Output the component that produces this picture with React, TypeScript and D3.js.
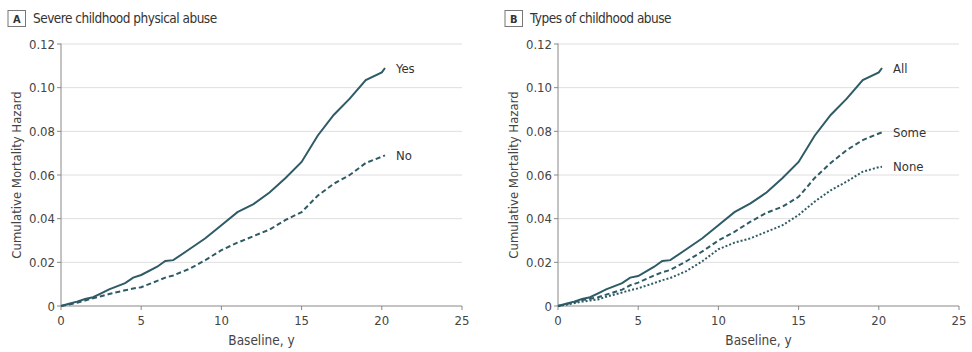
import * as d3 from "d3";

// time since baseline, years
const years = [0, 0.5, 1, 1.5, 2, 2.5, 3, 4, 4.5, 5, 6, 6.5, 7, 8, 9, 10, 11, 12, 13, 14, 15, 16, 17, 18, 19, 20, 20.2];

// Panel A: severe childhood physical abuse
const yesHazard = [0, 0.001, 0.002, 0.0032, 0.004, 0.0058, 0.0076, 0.0105, 0.013, 0.0142, 0.018, 0.0206, 0.021, 0.026, 0.031, 0.037, 0.043, 0.0467, 0.052, 0.0586, 0.066, 0.078, 0.0875, 0.095, 0.1035, 0.107, 0.109];
const noHazard = [0, 0.0007, 0.0015, 0.0025, 0.0035, 0.0045, 0.0055, 0.0072, 0.008, 0.0086, 0.0115, 0.013, 0.014, 0.017, 0.021, 0.0256, 0.029, 0.032, 0.035, 0.0394, 0.043, 0.0505, 0.056, 0.060, 0.0655, 0.0684, 0.069];

// Panel B: types of childhood abuse
const allHazard = [0, 0.001, 0.002, 0.0032, 0.004, 0.0058, 0.0076, 0.0105, 0.013, 0.0137, 0.018, 0.0206, 0.021, 0.026, 0.031, 0.037, 0.043, 0.047, 0.052, 0.0586, 0.066, 0.078, 0.0875, 0.095, 0.1035, 0.107, 0.109];
const someHazard = [0, 0.0008, 0.0017, 0.0027, 0.0033, 0.004, 0.0052, 0.0075, 0.0095, 0.0107, 0.014, 0.0155, 0.0165, 0.0205, 0.025, 0.030, 0.034, 0.0386, 0.0427, 0.0455, 0.050, 0.0586, 0.0655, 0.0714, 0.076, 0.079, 0.0795];
const noneHazard = [0, 0.0006, 0.0013, 0.002, 0.0025, 0.003, 0.0042, 0.0062, 0.0072, 0.0081, 0.0105, 0.0118, 0.0128, 0.016, 0.0205, 0.026, 0.029, 0.031, 0.034, 0.037, 0.0417, 0.0478, 0.053, 0.057, 0.0615, 0.0636, 0.0638];

const yTicks = [0, 0.02, 0.04, 0.06, 0.08, 0.1, 0.12];
const xTicks = [0, 5, 10, 15, 20, 25];

const font = "'Liberation Sans Narrow', 'DejaVu Sans Condensed', 'Roboto', sans-serif";
const teal = "#2f5b66";

type Series = { label: string; values: number[]; dash: string };

const Panel = ({ left, letter, title, series }: { left: number; letter: string; title: string; series: Series[] }) => {
  const x0 = left + 53;
  const x = d3.scaleLinear().domain([0, 25]).range([x0, x0 + 401]);
  const y = d3.scaleLinear().domain([0, 0.12]).range([306, 44]);
  const line = d3
    .line<number>()
    .x((d, i) => x(years[i]))
    .y((d) => y(d))
    .curve(d3.curveLinear);

  const fmt = (v: number) => (v === 0 ? "0" : v.toFixed(2));

  return (
    <g fontFamily={font}>
      <rect x={left} y={10.5} width={17.5} height={16} fill="none" stroke="#777" strokeWidth={1} />
      <text x={left + 8.75} y={23} textAnchor="middle" fontSize={11} fontWeight="bold" fill="#333">
        {letter}
      </text>
      <text x={left + 25} y={23} fontSize={13.5} letterSpacing={-0.5} fill="#333">
        {title}
      </text>

      {yTicks.map((t) => (
        <g key={t}>
          {t > 0 && <line x1={x(0)} x2={x(25)} y1={y(t)} y2={y(t)} stroke="#dedede" strokeWidth={1} />}
          <line x1={x(0) - 4} x2={x(0)} y1={y(t)} y2={y(t)} stroke="#888" />
          <text x={x(0) - 6} y={y(t) + 4.5} textAnchor="end" fontSize={13} fill="#444">
            {fmt(t)}
          </text>
        </g>
      ))}
      {xTicks.map((t) => (
        <g key={t}>
          <line x1={x(t)} x2={x(t)} y1={y(0)} y2={y(0) + 4} stroke="#888" />
          <text x={x(t)} y={y(0) + 19} textAnchor="middle" fontSize={13} fill="#444">
            {t}
          </text>
        </g>
      ))}
      <line x1={x(0)} x2={x(0)} y1={y(0.12) - 0.5} y2={y(0)} stroke="#888" />
      <line x1={x(0)} x2={x(25)} y1={y(0)} y2={y(0)} stroke="#888" />

      <text
        transform={`translate(${left + 13},${(y(0) + y(0.12)) / 2}) rotate(-90)`}
        textAnchor="middle"
        fontSize={13}
        fill="#444"
      >
        Cumulative Mortality Hazard
      </text>
      <text x={(x(0) + x(25)) / 2} y={345} textAnchor="middle" fontSize={13.5} fill="#444">
        Baseline, y
      </text>

      {series.map((s) => (
        <g key={s.label}>
          <path d={line(s.values) ?? ""} fill="none" stroke={teal} strokeWidth={2} strokeDasharray={s.dash} />
          <text
            x={x(years[years.length - 1]) + 11}
            y={y(s.values[s.values.length - 1]) + 4.5}
            fontSize={13}
            fill="#333"
          >
            {s.label}
          </text>
        </g>
      ))}
    </g>
  );
};

export default function App() {
  return (
    <svg width={972} height={352} style={{ position: "absolute", left: 0, top: 0, background: "#fff" }}>
      <Panel
        left={8}
        letter="A"
        title="Severe childhood physical abuse"
        series={[
          { label: "Yes", values: yesHazard, dash: "" },
          { label: "No", values: noHazard, dash: "5 3" },
        ]}
      />
      <Panel
        left={505}
        letter="B"
        title="Types of childhood abuse"
        series={[
          { label: "All", values: allHazard, dash: "" },
          { label: "Some", values: someHazard, dash: "5 3" },
          { label: "None", values: noneHazard, dash: "2 2" },
        ]}
      />
    </svg>
  );
}
